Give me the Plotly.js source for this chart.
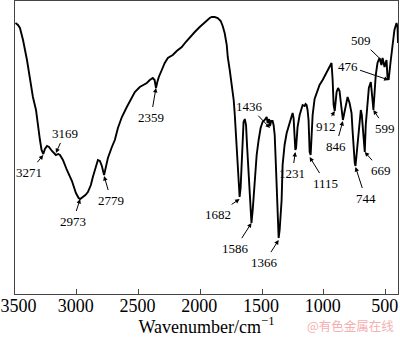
<!DOCTYPE html>
<html>
<head>
<meta charset="utf-8">
<script src="https://cdn.plot.ly/plotly-3.0.1.min.js"></script>
<style>html,body{margin:0;padding:0;background:#fff;}#chart{width:400px;height:337px;}</style>
</head>
<body>
<div id="chart"></div>
<script>
// IR spectrum: wavenumber (cm^-1) and transmittance (arbitrary units)
var wavenumber = [3496,3476,3460,3435,3403,3379,3355,3330,3314,3298,3285,3271,3258,3241,3225,3201,3169,3150,3136,3112,3080,3039,3007,2985,2973,2950,2930,2910,2886,2870,2845,2829,2813,2797,2779,2764,2748,2716,2692,2667,2635,2595,2562,2530,2490,2457,2433,2409,2385,2370,2359,2348,2336,2312,2288,2263,2223,2191,2150,2118,2085,2045,2005,1972,1948,1924,1908,1883,1859,1835,1819,1803,1786,1778,1762,1746,1730,1722,1714,1706,1698,1682,1674,1666,1657,1650,1640,1630,1622,1614,1603,1594,1586,1576,1560,1544,1528,1512,1496,1479,1463,1455,1443,1436,1426,1415,1407,1398,1390,1382,1374,1366,1358,1342,1334,1318,1301,1277,1261,1253,1245,1237,1231,1225,1219,1213,1196,1180,1172,1156,1148,1140,1132,1124,1115,1107,1099,1091,1075,1051,1035,1010,986,962,938,929,921,912,905,897,885,873,865,857,846,838,824,808,792,776,768,760,750,744,733,725,709,701,693,685,677,669,661,653,636,620,612,604,599,590,580,566,550,534,525,509,493,485,476,461,445,429,412,404,400];
var transmittance = [271,269,266,254,234,214,197,184,167,154,144,140,145,148,147,143,139,140,139,134,124,113,101,96,95,97,99,102,109,117,129,134,133,128,119,126,136,147,154,166,177,187,195,202,207,209,211,214,216,214,206,212,217,224,231,236,239,243,247,252,257,262,267,271,274,276,277,277,276,273,268,261,249,237,224,211,194,181,164,144,119,97,106,134,159,172,175,169,149,129,102,82,71,84,112,139,154,166,172,174,177,171,175,168,173,173,169,159,134,109,79,56,64,94,129,149,161,172,179,181,176,159,144,146,159,167,179,186,189,188,190,189,184,174,142,139,154,179,195,204,209,214,220,226,231,214,189,183,194,202,206,203,194,182,174,179,187,197,191,181,164,144,131,128,144,157,179,184,179,166,149,142,169,184,206,212,204,191,184,199,219,231,236,229,236,227,234,217,214,231,251,264,271,267,251];

// Axis tick values and labels
var tickValues = [3500,3000,2500,2000,1500,1000,500];
var tickLabels = ['\u20023500','3000','2500','2000','1500','1000','500'];

// Peak labels and the transmittance at the arrow tips
var peakLabels = [3271,3169,2973,2779,2359,1682,1586,1436,1366,1231,1115,912,846,744,669,599,509,476];
var peakTipT   = [139,141,95,118,206,95,71,166,54,142,137,183,173,127,142,184,231,214];

// label offsets (pixels) from arrow tip to label centre
var offX = [-14,9,-7,7,-5,-22,-16,-21,-14,-3,16,-9,-7,10,16,12,-24,-41];
var offY = [17,-20,22,24,29,15,25,-22,22,21,26,15,25,31,18,18,-23,-14];

var annotations = peakLabels.map(function(p,i){
  return {
    x: p, y: peakTipT[i], xref:'x', yref:'y',
    text: String(p), showarrow: true,
    ax: offX[i], ay: offY[i],
    arrowhead: 2, arrowsize: 0.9, arrowwidth: 1, arrowcolor: '#000',
    standoff: 0, startstandoff: 1,
    font: {family: 'Liberation Serif, Times New Roman, serif', size: 13, color: '#000'}
  };
});
annotations.push({
  xref:'paper', yref:'paper', x: 0.995, y: -0.109, xanchor:'right', yanchor:'middle',
  text: '@有色金属在线', showarrow: false,
  font: {family: 'Noto Sans CJK SC, sans-serif', size: 12.5, color: '#f4b0b0'}
});

var trace = {
  x: wavenumber, y: transmittance, type: 'scatter', mode: 'lines',
  line: {color: '#000', width: 1.9, shape: 'linear'},
  hoverinfo: 'skip'
};

var layout = {
  width: 400, height: 337,
  margin: {l: 15, r: 2, t: 1, b: 43},
  paper_bgcolor: '#fff', plot_bgcolor: '#fff',
  showlegend: false,
  xaxis: {
    range: [3500, 400], autorange: false,
    tickvals: tickValues,
    ticktext: tickLabels,
    ticks: 'inside', ticklen: 5, tickwidth: 1, tickcolor: '#444',
    ticklabeloverflow: 'allow', ticklabelstandoff: -5, ticklabelshift: 1,
    showline: true, linecolor: '#444', linewidth: 1, mirror: true,
    showgrid: false, zeroline: false,
    tickfont: {family: 'Liberation Serif, Times New Roman, serif', size: 18, color: '#000'},
    title: {text: 'Wavenumber/cm<sup>−1</sup>', standoff: 2,
      font: {family: 'Liberation Serif, Times New Roman, serif', size: 18, color: '#000'}}
  },
  yaxis: {
    range: [0, 293], autorange: false,
    showticklabels: false, ticks: '',
    showline: true, linecolor: '#444', linewidth: 1, mirror: true,
    showgrid: false, zeroline: false
  },
  annotations: annotations
};

Plotly.newPlot('chart', [trace], layout, {staticPlot: true, displayModeBar: false});
</script>
</body>
</html>
